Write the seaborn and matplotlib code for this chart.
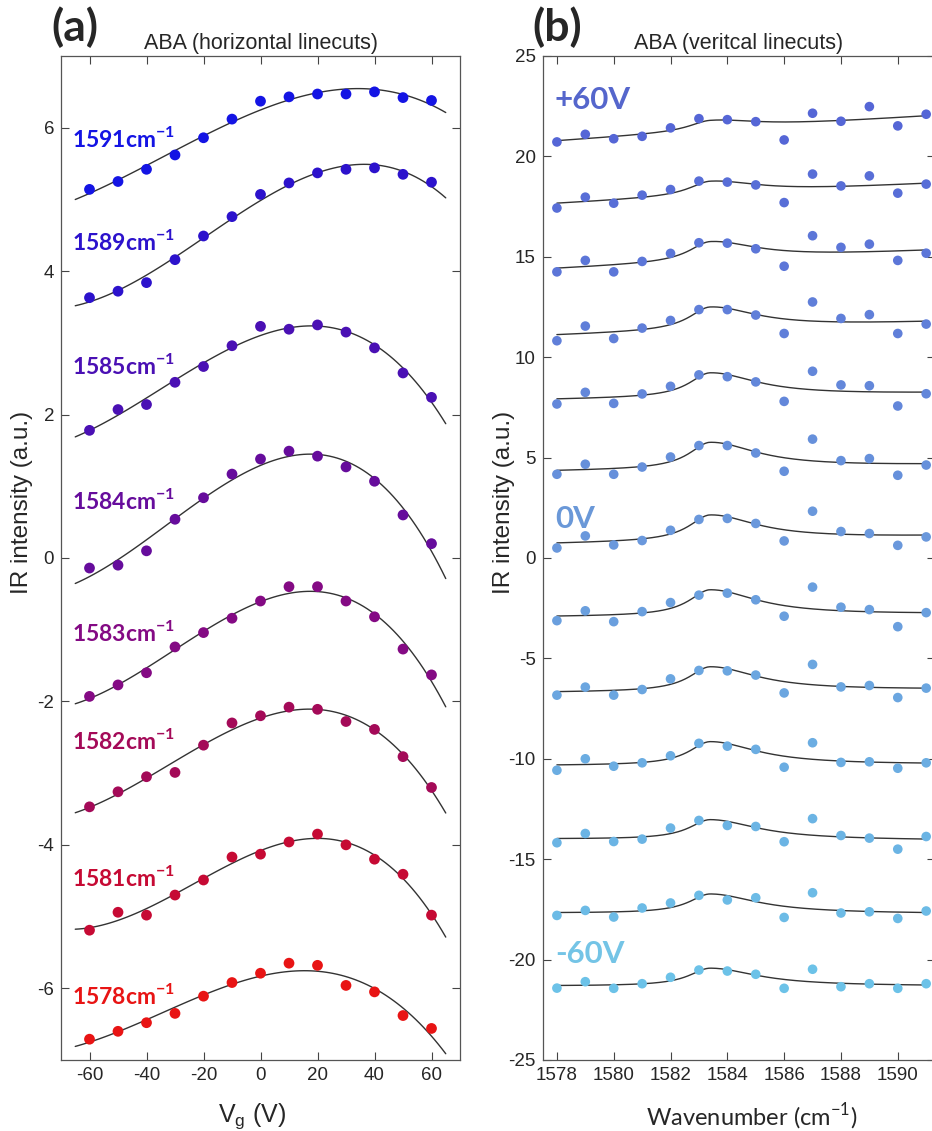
import numpy as np
import pandas as pd
import matplotlib
matplotlib.use("Agg")
import matplotlib.pyplot as plt
import seaborn as sns

# (a) horizontal linecuts: IR intensity vs gate voltage, one curve per wavenumber
vg = [-60, -50, -40, -30, -20, -10, 0, 10, 20, 30, 40, 50, 60]
wn_a = [1591, 1589, 1585, 1584, 1583, 1582, 1581, 1578]
ir_1591 = [5.14, 5.25, 5.42, 5.62, 5.86, 6.12, 6.37, 6.43, 6.47, 6.47, 6.50, 6.42, 6.38]
ir_1589 = [3.63, 3.72, 3.84, 4.16, 4.49, 4.76, 5.07, 5.23, 5.37, 5.42, 5.44, 5.35, 5.24]
ir_1585 = [1.78, 2.07, 2.14, 2.45, 2.67, 2.96, 3.23, 3.19, 3.25, 3.15, 2.93, 2.58, 2.24]
ir_1584 = [-0.14, -0.10, 0.10, 0.54, 0.84, 1.17, 1.38, 1.49, 1.42, 1.27, 1.07, 0.60, 0.20]
ir_1583 = [-1.93, -1.77, -1.60, -1.24, -1.04, -0.84, -0.60, -0.40, -0.40, -0.60, -0.82, -1.27, -1.63]
ir_1582 = [-3.47, -3.26, -3.05, -2.99, -2.61, -2.30, -2.20, -2.08, -2.11, -2.28, -2.39, -2.77, -3.20]
ir_1581 = [-5.19, -4.94, -4.98, -4.70, -4.49, -4.17, -4.13, -3.96, -3.85, -4.00, -4.20, -4.41, -4.98]
ir_1578 = [-6.71, -6.60, -6.48, -6.35, -6.11, -5.92, -5.79, -5.65, -5.68, -5.96, -6.05, -6.38, -6.56]
label_y_a = [5.85, 4.42, 2.69, 0.80, -1.04, -2.54, -4.45, -6.10]

# (b) vertical linecuts: IR intensity vs wavenumber, one curve per gate voltage
wn_b = [1578, 1579, 1580, 1581, 1582, 1583, 1584, 1585, 1586, 1587, 1588, 1589, 1590, 1591]
cut_p60 = [20.72, 21.10, 20.88, 21.00, 21.42, 21.88, 21.83, 21.73, 20.82, 22.15, 21.75, 22.48, 21.52, 22.10]
cut_p50 = [17.43, 17.97, 17.67, 18.07, 18.35, 18.77, 18.72, 18.58, 17.70, 19.12, 18.53, 19.03, 18.17, 18.62]
cut_p40 = [14.25, 14.82, 14.25, 14.77, 15.17, 15.70, 15.68, 15.40, 14.53, 16.05, 15.47, 15.63, 14.82, 15.18]
cut_p30 = [10.82, 11.55, 10.93, 11.45, 11.83, 12.37, 12.37, 12.10, 11.18, 12.75, 11.93, 12.12, 11.18, 11.65]
cut_p20 = [7.67, 8.25, 7.70, 8.17, 8.55, 9.12, 9.03, 8.77, 7.80, 9.30, 8.62, 8.58, 7.57, 8.18]
cut_p10 = [4.17, 4.67, 4.17, 4.53, 5.03, 5.60, 5.60, 5.23, 4.32, 5.92, 4.85, 4.95, 4.12, 4.63]
cut_0 = [0.50, 1.10, 0.65, 0.87, 1.38, 1.92, 1.97, 1.72, 0.85, 2.33, 1.32, 1.22, 0.63, 1.05]
cut_m10 = [-3.12, -2.63, -3.17, -2.67, -2.22, -1.85, -1.75, -2.08, -2.90, -1.45, -2.45, -2.57, -3.42, -2.72]
cut_m20 = [-6.83, -6.43, -6.83, -6.55, -6.02, -5.60, -5.62, -5.83, -6.72, -5.30, -6.42, -6.35, -6.95, -6.48]
cut_m30 = [-10.57, -10.00, -10.37, -10.20, -9.85, -9.23, -9.37, -9.53, -10.42, -9.20, -10.18, -10.15, -10.47, -10.20]
cut_m40 = [-14.18, -13.72, -14.12, -14.00, -13.45, -13.07, -13.32, -13.37, -14.13, -12.98, -13.82, -13.95, -14.50, -13.87]
cut_m50 = [-17.80, -17.55, -17.88, -17.43, -17.18, -16.80, -17.03, -16.92, -17.90, -16.67, -17.68, -17.62, -17.95, -17.58]
cut_m60 = [-21.42, -21.10, -21.43, -21.20, -20.88, -20.52, -20.57, -20.73, -21.43, -20.48, -21.35, -21.20, -21.43, -21.20]

series_a = [ir_1591, ir_1589, ir_1585, ir_1584, ir_1583, ir_1582, ir_1581, ir_1578]
series_b = [cut_p60, cut_p50, cut_p40, cut_p30, cut_p20, cut_p10, cut_0,
            cut_m10, cut_m20, cut_m30, cut_m40, cut_m50, cut_m60]

colors_a = ["#1414e4", "#2c12cc", "#4a10b4", "#660c9c", "#840a84", "#a40a58", "#c60a34", "#e81414"]
colors_b = sns.blend_palette(["#5566d6", "#6a98dc", "#6cc2e8"], len(series_b))

sns.set_style("ticks")
plt.rcParams["font.family"] = ["Liberation Sans", "DejaVu Sans"]
plt.rcParams["axes.unicode_minus"] = False
plt.rcParams["mathtext.fontset"] = "custom"
plt.rcParams["mathtext.rm"] = "Liberation Sans"

fig = plt.figure(figsize=(9.32, 11.31), dpi=100)
W, H = 932, 1131
ax_a = fig.add_axes([61 / W, 1 - 1060 / H, 399 / W, 1004 / H])
ax_b = fig.add_axes([542.7 / W, 1 - 1060 / H, 392 / W, 1004 / H])

# ---- panel (a): cubic fit through each linecut
ax_a.set_xlim(-65, 65)
for vals, c in zip(series_a, colors_a):
    sns.regplot(x=vg, y=vals, order=3, ci=None, scatter=False, truncate=False,
                color="#333333", line_kws=dict(lw=1.0), ax=ax_a)
    sns.scatterplot(x=vg, y=vals, color=c, s=60, edgecolor="none", zorder=3, ax=ax_a)

for wn, ly, c in zip(wn_a, label_y_a, colors_a):
    ax_a.text(-66, ly, f"{wn}cm$^\\mathregular{{-1}}$", color=c, fontsize=16.5,
              fontweight="bold", family="Lato", ha="left", va="center")

ax_a.set_xlim(-70, 70)
ax_a.set_ylim(-7, 7)
ax_a.set_xticks(range(-60, 61, 20))
ax_a.set_yticks(range(-6, 7, 2))
ax_a.set_title("ABA (horizontal linecuts)", fontsize=15.5, pad=5)
ax_a.set_xlabel("V$_\\mathregular{g}$ (V)", fontsize=18)
ax_a.set_ylabel("IR intensity (a.u.)", fontsize=17.5)
ax_a.xaxis.set_label_coords(0.48, -0.041)
ax_a.yaxis.set_label_coords(-0.07, 0.555)

# ---- panel (b): asymmetric peak + linear background, least squares per cut
x_b = np.array(wn_b, dtype=float)
grid = np.linspace(1578, 1591, 300)


def basis(x):
    d = x - 1583.4
    gam = np.where(d < 0, 0.9, 2.0)
    peak = 1.0 / (1.0 + (d / gam) ** 2)
    return np.column_stack([np.ones_like(x), x - 1578, peak])


for vals, c in zip(series_b, colors_b):
    coef, *_ = np.linalg.lstsq(basis(x_b), np.array(vals), rcond=None)
    fit = pd.DataFrame({"wn": grid, "ir": basis(grid) @ coef})
    sns.lineplot(data=fit, x="wn", y="ir", color="#333333", lw=1.0, ax=ax_b)
    sns.scatterplot(x=wn_b, y=vals, color=c, s=48, edgecolor="none", zorder=3, ax=ax_b)

ax_b.text(1577.93, 22.8, "+60V", color="#5566cc", fontsize=22.5, fontweight="bold",
          family="Lato", ha="left", va="center")
ax_b.text(1577.93, 1.95, "0V", color="#6a98d8", fontsize=22.5, fontweight="bold",
          family="Lato", ha="left", va="center")
ax_b.text(1577.93, -19.7, "-60V", color="#74c4e6", fontsize=22.5, fontweight="bold",
          family="Lato", ha="left", va="center")

ax_b.set_xlim(1577.5, 1591.3)
ax_b.set_ylim(-25, 25)
ax_b.set_xticks(range(1578, 1591, 2))
ax_b.set_yticks(range(-25, 26, 5))
ax_b.set_title("ABA (veritcal linecuts)", fontsize=15.5, pad=5)
ax_b.set_xlabel("Wavenumber (cm$^\\mathregular{-1}$)", fontsize=17, family="Lato")
ax_b.set_ylabel("IR intensity (a.u.)", fontsize=17.5)
ax_b.xaxis.set_label_coords(0.534, -0.041)
ax_b.yaxis.set_label_coords(-0.071, 0.555)

for ax in (ax_a, ax_b):
    ax.tick_params(direction="in", top=True, right=True, length=6, width=0.8,
                   color="#444444", labelsize=13.5, pad=5)
    for sp in ax.spines.values():
        sp.set_color("#555555")
        sp.set_linewidth(0.9)

fig.text(75 / W, 1 - 27 / H, "(a)", fontsize=32, fontweight="bold", family="Lato",
         ha="center", va="center")
fig.text(557 / W, 1 - 27 / H, "(b)", fontsize=32, fontweight="bold", family="Lato",
         ha="center", va="center")

fig.savefig("out.png", dpi=100)
